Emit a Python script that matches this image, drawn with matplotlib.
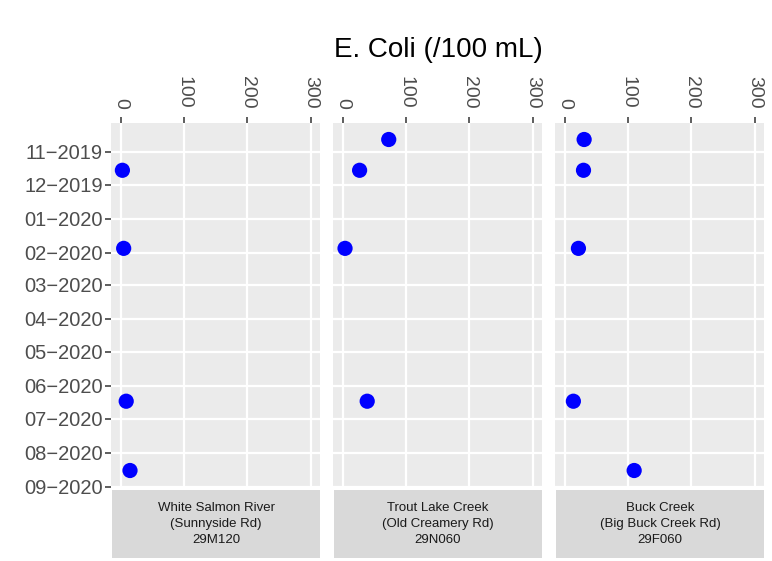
import matplotlib
matplotlib.use('Agg')
import matplotlib.pyplot as plt
import matplotlib.dates as mdates
import numpy as np
import pandas as pd

# sample dates and E. coli counts per site (/100 mL)
sample_dates = pd.to_datetime(['2019-10-21', '2019-11-18', '2020-01-28', '2020-06-15', '2020-08-17'])
white_salmon = [np.nan, 3, 5, 9, 15]
trout_lake = [73, 27, 4, 39, np.nan]
buck_creek = [31, 30, 22, 14, 110]

site_labels = ['White Salmon River\n(Sunnyside Rd)\n29M120',
               'Trout Lake Creek\n(Old Creamery Rd)\n29N060',
               'Buck Creek\n(Big Buck Creek Rd)\n29F060']
site_values = [white_salmon, trout_lake, buck_creek]

month_ticks = pd.date_range('2019-11-01', '2020-09-01', freq='MS')
x_ticks = [0, 100, 200, 300]

plt.rcParams['font.family'] = ['Liberation Sans', 'DejaVu Sans']

W, H = 772, 561
fig = plt.figure(figsize=(W / 100, H / 100), dpi=100)
fig.patch.set_facecolor('white')

def px(x0, y0, x1, y1):
    # pixel box (top-left origin) -> figure fraction
    return [x0 / W, 1 - y1 / H, (x1 - x0) / W, (y1 - y0) / H]

panel_left = [111, 333, 555]
panel_w = 209
top, bottom = 123, 487
ylo = pd.Timestamp('2020-09-01')
yhi = pd.Timestamp('2019-10-06')

for i, (lab, vals) in enumerate(zip(site_labels, site_values)):
    x0 = panel_left[i]
    ax = fig.add_axes(px(x0, top, x0 + panel_w, bottom))
    ax.set_facecolor('#EBEBEB')
    for s in ax.spines.values():
        s.set_visible(False)
    ax.scatter(vals, sample_dates, s=120, color='#0000FF', edgecolors='none', zorder=3)
    ax.set_xlim(-15, 315)
    ax.set_ylim(mdates.date2num(ylo), mdates.date2num(yhi))
    ax.set_xticks(x_ticks)
    ax.set_yticks(mdates.date2num(month_ticks))
    ax.grid(True, color='white', linewidth=1.6, zorder=1)
    ax.set_axisbelow(True)
    ax.xaxis.tick_top()
    ax.tick_params(axis='x', length=4, width=1.1, color='#333333', pad=6,
                   labelsize=14, labelcolor='#4D4D4D')
    for t in ax.get_xticklabels():
        t.set_rotation(-90)
        t.set_va('bottom')
        t.set_ha('center')
    if i == 0:
        ax.set_yticklabels([d.strftime('%m\u2212%Y') for d in month_ticks])
        ax.tick_params(axis='y', length=4, width=1.1, color='#333333', pad=2,
                       labelsize=14.5, labelcolor='#4D4D4D')
    else:
        ax.tick_params(axis='y', length=0, labelleft=False)

    # facet strip below the panel
    sx = fig.add_axes(px(x0 + 1, 490, x0 + panel_w, 558))
    sx.set_facecolor('#D9D9D9')
    for s in sx.spines.values():
        s.set_visible(False)
    sx.set_xticks([])
    sx.set_yticks([])
    sx.text(0.5, 0.5, lab, ha='center', va='center', fontsize=9.5,
            color='#1A1A1A', linespacing=1.4, transform=sx.transAxes)

fig.text(438 / W, 1 - 50 / H, 'E. Coli (/100 mL)', ha='center', va='center',
         fontsize=20, color='black')

fig.savefig('out.png', dpi=100)
